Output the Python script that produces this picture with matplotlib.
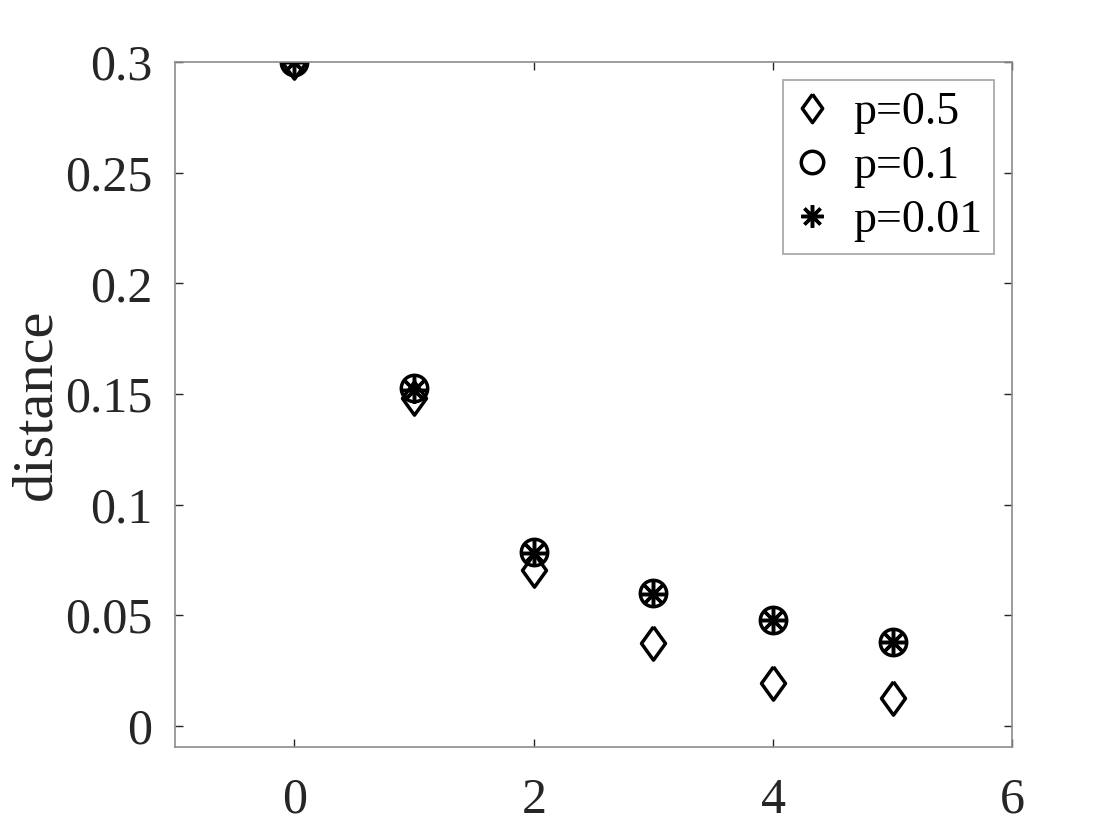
import numpy as np
import matplotlib
matplotlib.use("Agg")
import matplotlib.pyplot as plt

plt.rcParams['font.family'] = ['Liberation Serif', 'DejaVu Serif']
plt.rcParams['mathtext.fontset'] = 'stix'

# data
steps = [0, 1, 2, 3, 4, 5]
d_p05 = [0.300, 0.148, 0.0705, 0.0372, 0.0192, 0.0125]
d_p01 = [0.300, 0.1527, 0.0786, 0.0598, 0.0479, 0.0380]
d_p001 = [0.300, 0.1520, 0.0780, 0.0595, 0.0477, 0.0378]
labels = ['p=0.5', 'p=0.1', 'p=0.01']

# matlab-like diamond (taller than wide)
diamond = [(0, 1), (0.72, 0), (0, -1), (-0.72, 0), (0, 1)]

fig = plt.figure(figsize=(11.2, 8.4), dpi=100)
ax = fig.add_axes([0.156, 0.111, 0.748, 0.815])

ax.plot(steps, d_p05, linestyle='none', marker=diamond, markersize=24,
        markerfacecolor='none', markeredgecolor='black', markeredgewidth=2.5,
        label=labels[0])
ax.plot(steps, d_p01, linestyle='none', marker='o', markersize=19,
        markerfacecolor='none', markeredgecolor='black', markeredgewidth=2.5,
        label=labels[1])
ax.plot(steps, d_p001, linestyle='none', marker=(8, 2, 0), markersize=19,
        markeredgecolor='black', markeredgewidth=2.5, label=labels[2])

ax.set_xlim(-1, 6)
ax.set_ylim(-0.0095, 0.3)
ax.set_xticks([0, 2, 4, 6])
ax.set_yticks([0, 0.05, 0.1, 0.15, 0.2, 0.25, 0.3])
ax.set_yticklabels(['0', '0.05', '0.1', '0.15', '0.2', '0.25', '0.3'])
ax.tick_params(direction='in', top=True, right=True, labelsize=36,
               length=6, width=1, colors='#262626')
ax.tick_params(axis='y', pad=16)
ax.tick_params(axis='x', pad=22)
for s in ax.spines.values():
    s.set_color('#8c8c8c')
    s.set_linewidth(1.2)
ax.set_ylabel('distance', fontsize=42, color='#262626', labelpad=2)

leg = ax.legend(loc='upper right', fontsize=33, frameon=True, fancybox=False,
                edgecolor='#8c8c8c', handlelength=0.8, handletextpad=0.5,
                borderpad=0.25, labelspacing=0.25, borderaxespad=0.4,
                markerscale=0.85)
leg.get_frame().set_linewidth(1.2)

fig.savefig('out.png', dpi=100)
